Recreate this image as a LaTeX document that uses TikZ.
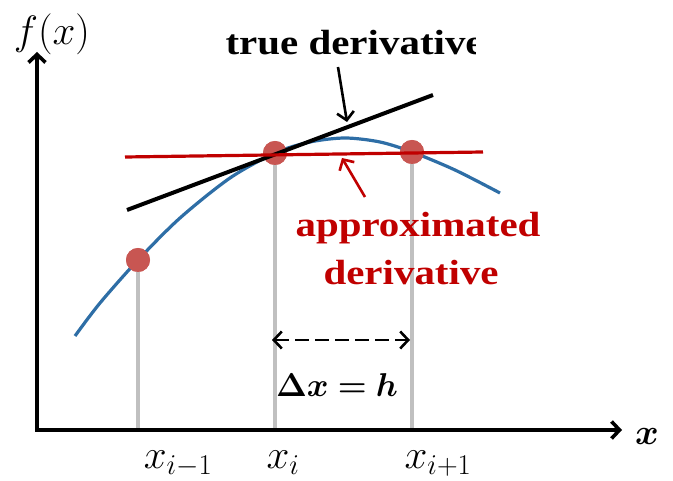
\RequirePackage{fix-cm}
\documentclass[tikz,border=0pt]{standalone}
\usepackage{fontspec}
\usepackage{amsmath,bm}
\usetikzlibrary{arrows.meta,positioning}
\newfontfamily\lblfont{Liberation Serif}[FakeStretch=1.17]
\definecolor{curveblue}{RGB}{46,110,166}
\definecolor{dotred}{RGB}{200,86,82}
\definecolor{darkred}{RGB}{192,0,0}
\definecolor{dropgray}{RGB}{192,192,192}

\begin{document}
\begin{tikzpicture} [x=1pt, y=-1pt,
    >={Straight Barb[length=8pt,width=17pt]},
    axis/.style={line width=3.6pt},
    drop/.style={dropgray, line width=3.2pt},
    dot/.style={circle, fill=dotred, minimum size=24pt, inner sep=0pt},
    lbl/.style={font=\lblfont\bfseries\fontsize{35}{40}\selectfont, anchor=base west},
    mlbl/.style={font=\fontsize{41}{46}\selectfont, anchor=base}]
  \useasboundingbox (0,0) rectangle (673,481);

  % axes
  \coordinate (O) at (37,430);
  \coordinate (Xend) at (622,430);
  \coordinate (Yend) at (37,52);
  \node[mlbl] (fx) at (52,45) {$f(x)$};
  \node[font=\fontsize{36}{40}\selectfont] (xlbl) at (647,437) {$\bm{x}$};

  % sample points
  \node[dot] (Pm) at (138,260) {};
  \node[dot] (Pi) at (275,153) {};
  \node[dot] (Pp) at (412,152) {};

  \draw[drop] (Pm.center) -- (Pm.center |- O);
  \draw[drop] (Pi.center) -- (Pi.center |- O);
  \draw[drop] (Pp.center) -- (Pp.center |- O);
  \draw[axis, <->] (Yend) |- (Xend);

  \draw[curveblue, line width=3.2pt] plot[smooth] coordinates
    {(75,336) (100,303) (138,260) (180,218) (230,178) (275,153) (310,142)
     (345,138) (380,142) (412,152) (455,170) (500,193)};

  \node[dot] at (Pm) {};
  \node[dot] at (Pi) {};
  \node[dot] at (Pp) {};

  \node[mlbl] (Lm) at (178,468) {$x_{i-1}$};
  \node[mlbl] (Li) at (283,468) {$x_i$};
  \node[mlbl] (Lp) at (438,468) {$x_{i+1}$};

  % tangent and secant
  \coordinate (Ta) at (127,210);
  \coordinate (Tb) at (433,95);
  \coordinate (Sa) at (125,157);
  \coordinate (Sb) at (483,152);
  \draw[line width=4pt] (Ta) -- (Tb);
  \draw[darkred, line width=3.2pt] (Sa) -- (Sb);

  % labels
  \begin{scope}
    \clip (200,0) rectangle (475,80);
    \node[lbl] (truelbl) at (222,55) {true derivative};
  \end{scope}
  \coordinate (Tfrom) at (338,67);
  \coordinate (Tto) at (347,122);
  \draw[->, line width=2.6pt] (Tfrom) -- (Tto);

  \node[lbl, darkred] (approx) at (292,237) {approximated};
  \node[lbl, darkred] (deriv) at (320,285) {derivative};
  \coordinate (Rfrom) at (365,197);
  \coordinate (Rto) at (342,158);
  \draw[->, darkred, line width=2.6pt] (Rfrom) -- (Rto);

  % step width
  \coordinate (Hl) at (272,340);
  \coordinate (Hr) at (410,340);
  \draw[<->, line width=2.6pt, dash pattern=on 14pt off 6pt] (Hl) -- (Hr);
  \node[font=\fontsize{33}{38}\selectfont] (hlbl) at (337,385) {$\bm{\Delta x = h}$};
\end{tikzpicture}
\end{document}
